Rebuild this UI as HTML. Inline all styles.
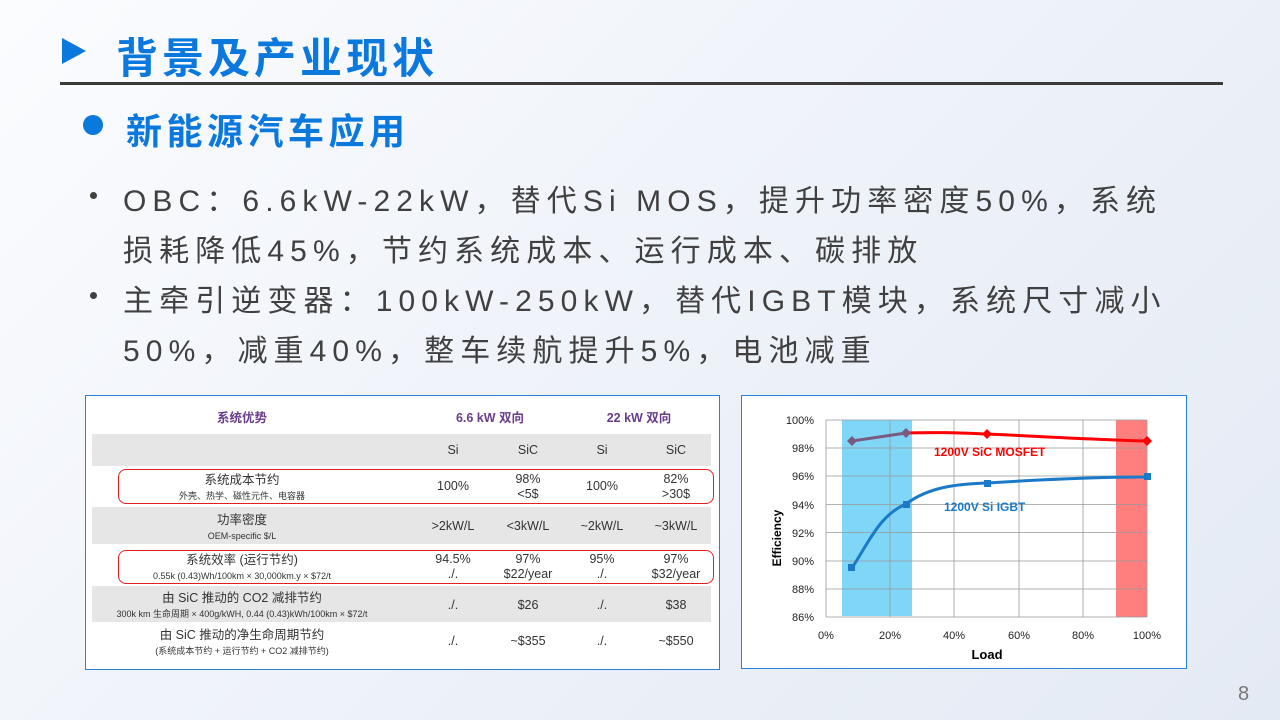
<!DOCTYPE html>
<html><head><meta charset="utf-8"><style>
body{margin:0;width:1280px;height:720px;overflow:hidden;position:relative;background:linear-gradient(135deg,#fbfcfe 0%,#eef2f9 50%,#e4eaf4 100%);font-family:"Liberation Sans","Noto Sans CJK SC",sans-serif;}
.a{position:absolute;white-space:nowrap}
.t{color:#0a78dc;font-weight:bold}
.b{color:#404040;font-size:30px;letter-spacing:6.1px;left:123px}
.dot{position:absolute;left:90px;width:7px;height:7px;border-radius:50%;background:#404040}
#tbl{position:absolute;left:85px;top:395px;width:633px;height:273px;background:#fff;border:1px solid #2a7fd8}
.r{position:absolute;left:6px;width:619px}
.g{background:#e6e6e6}
.c{position:absolute;text-align:center;transform:translateX(-50%);color:#333;font-size:12.5px;line-height:15px;white-space:nowrap}
.s{font-size:9px;line-height:11px}
.red{position:absolute;left:32px;width:594px;border:1.3px solid #e02020;border-radius:8px}
</style></head><body>
<svg class="a" style="left:62px;top:38px" width="30" height="32"><polygon points="0,0 24,13 0,26" fill="#0a78dc"/></svg>
<div class="a t" style="left:116px;top:25px;font-size:42px;letter-spacing:4px">背景及产业现状</div>
<div class="a" style="left:60px;top:82px;width:1163px;height:3px;background:#3a3a3a"></div>
<div class="a" style="left:83px;top:115px;width:20px;height:20px;border-radius:50%;background:#0a78dc"></div>
<div class="a t" style="left:126px;top:103px;font-size:36px;letter-spacing:4.5px">新能源汽车应用</div>
<div class="dot" style="top:192px"></div><div class="a b" style="top:176px">OBC：6.6kW-22kW，替代Si MOS，提升功率密度50%，系统</div>
<div class="a b" style="top:226px">损耗降低45%，节约系统成本、运行成本、碳排放</div>
<div class="dot" style="top:292px"></div><div class="a b" style="top:276px">主牵引逆变器：100kW-250kW，替代IGBT模块，系统尺寸减小</div>
<div class="a b" style="top:326px">50%，减重40%，整车续航提升5%，电池减重</div>

<div id="tbl">
<div class="c" style="left:156px;top:15px;color:#6a3d8a;font-weight:bold">系统优势</div>
<div class="c" style="left:404px;top:15px;color:#6a3d8a;font-weight:bold">6.6 kW 双向</div>
<div class="c" style="left:553px;top:15px;color:#6a3d8a;font-weight:bold">22 kW 双向</div>
<div class="r g" style="top:38px;height:32px"></div>
<div class="c" style="left:367px;top:47px">Si</div><div class="c" style="left:442px;top:47px">SiC</div><div class="c" style="left:516px;top:47px">Si</div><div class="c" style="left:590px;top:47px">SiC</div>
<div class="red" style="top:73px;height:33px"></div>
<div class="c" style="left:156px;top:77px">系统成本节约<br><span class="s">外壳、热学、磁性元件、电容器</span></div>
<div class="c" style="left:367px;top:83px">100%</div><div class="c" style="left:442px;top:76px">98%<br>&lt;5$</div><div class="c" style="left:516px;top:83px">100%</div><div class="c" style="left:590px;top:76px">82%<br>&gt;30$</div>
<div class="r g" style="top:111px;height:37px"></div>
<div class="c" style="left:156px;top:117px">功率密度<br><span class="s">OEM-specific $/L</span></div>
<div class="c" style="left:367px;top:123px">&gt;2kW/L</div><div class="c" style="left:442px;top:123px">&lt;3kW/L</div><div class="c" style="left:516px;top:123px">~2kW/L</div><div class="c" style="left:590px;top:123px">~3kW/L</div>
<div class="red" style="top:154px;height:32px"></div>
<div class="c" style="left:156px;top:157px">系统效率 (运行节约)<br><span class="s">0.55k (0.43)Wh/100km × 30,000km.y × $72/t</span></div>
<div class="c" style="left:367px;top:156px">94.5%<br>./.</div><div class="c" style="left:442px;top:156px">97%<br>$22/year</div><div class="c" style="left:516px;top:156px">95%<br>./.</div><div class="c" style="left:590px;top:156px">97%<br>$32/year</div>
<div class="r g" style="top:190px;height:36px"></div>
<div class="c" style="left:156px;top:195px">由 SiC 推动的 CO2 减排节约<br><span class="s">300k km 生命周期 × 400g/kWH, 0.44 (0.43)kWh/100km × $72/t</span></div>
<div class="c" style="left:367px;top:202px">./.</div><div class="c" style="left:442px;top:202px">$26</div><div class="c" style="left:516px;top:202px">./.</div><div class="c" style="left:590px;top:202px">$38</div>
<div class="c" style="left:156px;top:232px">由 SiC 推动的净生命周期节约<br><span class="s">(系统成本节约 + 运行节约 + CO2 减排节约)</span></div>
<div class="c" style="left:367px;top:238px">./.</div><div class="c" style="left:442px;top:238px">~$355</div><div class="c" style="left:516px;top:238px">./.</div><div class="c" style="left:590px;top:238px">~$550</div>
</div>

<svg class="a" style="left:741px;top:395px" width="446" height="274">
<rect x="0.5" y="0.5" width="445" height="273" fill="#fff" stroke="#2a7fd8"/>
<g transform="translate(-741,-395)" font-family="Liberation Sans,sans-serif">
<rect x="842" y="420" width="70" height="196" fill="#7fd6f7"/>
<rect x="1116" y="420" width="31" height="197" fill="#ff7f7f"/>
<g stroke="#999" stroke-width="0.8" fill="none">
<path d="M826 420H1147M826 448H1147M826 476H1147M826 504.5H1147M826 532.5H1147M826 561H1147M826 589H1147M826 617H1147"/>
<path d="M826 420V617M890 420V617M954 420V617M1019 420V617M1083 420V617M1147 420V617"/>
</g>
<g font-size="11" fill="#222" text-anchor="end">
<text x="814" y="424">100%</text><text x="814" y="452">98%</text><text x="814" y="480">96%</text><text x="814" y="509">94%</text><text x="814" y="537">92%</text><text x="814" y="565">90%</text><text x="814" y="593">88%</text><text x="814" y="621">86%</text>
</g>
<g font-size="11" fill="#222" text-anchor="middle">
<text x="826" y="639">0%</text><text x="890" y="639">20%</text><text x="954" y="639">40%</text><text x="1019" y="639">60%</text><text x="1083" y="639">80%</text><text x="1147" y="639">100%</text>
</g>
<text x="987" y="659" font-size="13" font-weight="bold" text-anchor="middle">Load</text>
<text transform="translate(781,538) rotate(-90)" font-size="12" font-weight="bold" text-anchor="middle">Efficiency</text>
<path d="M852 441L906 433" stroke="#7a5a80" stroke-width="3" fill="none"/>
<path d="M906 433C940 432 960 433 987 434S1100 440 1147 441" stroke="#f00" stroke-width="3" fill="none"/>
<path d="M852 568C870 540 880 515 906 504C930 486 960 484 987 483C1050 479 1100 477 1147 477" stroke="#1a7ac8" stroke-width="3" fill="none"/>
<g fill="#7a5a80"><path d="M852 436l5 5-5 5-5-5z"/><path d="M906 428l5 5-5 5-5-5z"/></g>
<g fill="#f00"><path d="M987 429l5 5-5 5-5-5z"/><path d="M1147 436l5 5-5 5-5-5z"/></g>
<g fill="#1a7ac8"><rect x="848" y="564" width="7" height="7"/><rect x="903" y="501" width="7" height="7"/><rect x="984" y="480" width="7" height="7"/><rect x="1144" y="473" width="7" height="7"/></g>
<text x="934" y="456" font-size="12" font-weight="bold" fill="#f00">1200V SiC MOSFET</text>
<text x="944" y="511" font-size="12" font-weight="bold" fill="#1a7ac8">1200V Si IGBT</text>
</g></svg>
<div class="a" style="left:1238px;top:683px;font-size:20px;color:#777">8</div>
</body></html>
